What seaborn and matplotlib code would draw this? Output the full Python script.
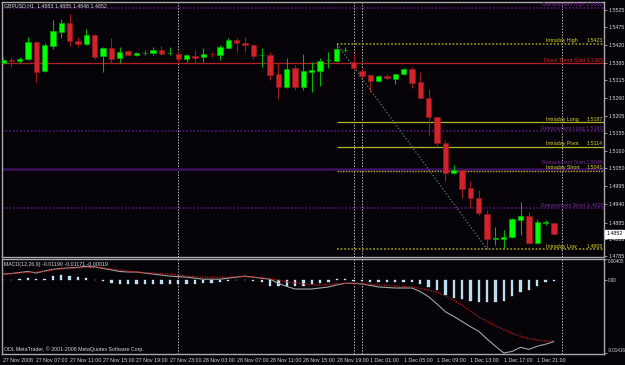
import matplotlib
matplotlib.use("Agg")
import matplotlib.pyplot as plt
import seaborn as sns
import pandas as pd
from matplotlib.transforms import blended_transform_factory

# ---------------- data ----------------
bars = list(range(67))
opens = [1.5366,1.5375,1.5372,1.5378,1.5429,1.5342,1.5417,1.5459,1.5486,1.5432,
         1.5423,1.5450,1.5387,1.5411,1.5381,1.5402,1.5390,1.5395,1.5396,1.5405,
         1.5395,1.5393,1.5378,1.5387,1.5384,1.5394,1.5390,1.5411,1.5435,1.5426,
         1.5420,1.5389,1.5390,1.5333,1.5293,1.5351,1.5293,1.5339,1.5342,1.5374,
         1.5372,1.5404,1.5369,1.5342,1.5330,1.5311,1.5326,1.5317,1.5333,1.5348,
         1.5308,1.5260,1.5203,1.5125,1.5035,1.5044,1.4990,1.4960,1.4911,1.4836,
         1.4836,1.4842,1.4893,1.4905,1.4824,1.4884,1.4883]
highs = [1.5384,1.5384,1.5384,1.5444,1.5432,1.5426,1.5495,1.5498,1.5513,1.5444,
         1.5468,1.5453,1.5414,1.5441,1.5414,1.5405,1.5399,1.5405,1.5414,1.5417,
         1.5414,1.5402,1.5393,1.5405,1.5411,1.5399,1.5420,1.5441,1.5441,1.5444,
         1.5423,1.5411,1.5399,1.5366,1.5381,1.5360,1.5393,1.5369,1.5381,1.5399,
         1.5423,1.5414,1.5396,1.5351,1.5333,1.5330,1.5333,1.5333,1.5351,1.5354,
         1.5338,1.5287,1.5203,1.5134,1.5059,1.5044,1.5011,1.4984,1.4923,1.4872,
         1.4863,1.4899,1.4947,1.4917,1.4896,1.4893,1.4885]
lows = [1.5363,1.5354,1.5366,1.5375,1.5308,1.5339,1.5408,1.5441,1.5417,1.5414,
        1.5420,1.5378,1.5339,1.5366,1.5366,1.5387,1.5387,1.5390,1.5390,1.5390,
        1.5390,1.5369,1.5369,1.5366,1.5369,1.5384,1.5375,1.5411,1.5399,1.5399,
        1.5378,1.5354,1.5314,1.5257,1.5290,1.5284,1.5284,1.5278,1.5296,1.5351,
        1.5369,1.5399,1.5345,1.5321,1.5278,1.5308,1.5314,1.5302,1.5330,1.5290,
        1.5257,1.5149,1.5113,1.5011,1.5032,1.4960,1.4929,1.4908,1.4806,1.4818,
        1.4808,1.4839,1.4848,1.4821,1.4821,1.4878,1.4848]
closes = [1.5375,1.5372,1.5378,1.5429,1.5339,1.5420,1.5462,1.5486,1.5432,1.5423,
          1.5450,1.5384,1.5411,1.5378,1.5399,1.5390,1.5396,1.5397,1.5405,1.5393,
          1.5397,1.5378,1.5390,1.5381,1.5393,1.5392,1.5414,1.5435,1.5426,1.5420,
          1.5387,1.5391,1.5330,1.5293,1.5348,1.5293,1.5342,1.5345,1.5372,1.5376,
          1.5408,1.5406,1.5351,1.5327,1.5311,1.5326,1.5320,1.5333,1.5348,1.5305,
          1.5260,1.5203,1.5125,1.5035,1.5044,1.4987,1.4960,1.4914,1.4836,1.4839,
          1.4842,1.4896,1.4905,1.4824,1.4887,1.4887,1.4852]

macd_main = [0.0012,0.0013,0.0015,0.0017,0.0014,0.0018,0.0021,0.0023,0.0024,0.0025,
             0.0027,0.0026,0.0023,0.0020,0.0017,0.0016,0.0016,0.0014,0.0012,0.0010,
             0.0008,0.0007,0.0006,0.0004,0.0002,0.0002,0.0002,0.0004,0.0006,0.0008,
             0.0006,0.0004,0.0002,-0.0006,-0.0012,-0.0017,-0.0017,-0.0017,-0.0015,-0.0013,
             -0.0009,-0.0006,-0.0006,-0.0007,-0.0010,-0.0013,-0.0014,-0.0015,-0.0015,-0.0015,
             -0.0022,-0.0032,-0.0046,-0.0061,-0.0070,-0.0080,-0.0090,-0.0099,-0.0114,-0.0128,
             -0.0141,-0.0138,-0.0130,-0.0134,-0.0128,-0.0124,-0.0119]
macd_signal = [0.0012,0.0013,0.0014,0.0015,0.0016,0.0017,0.0020,0.0022,0.0023,0.0024,
               0.0025,0.0025,0.0024,0.0022,0.0020,0.0018,0.0016,0.0015,0.0014,0.0013,
               0.0012,0.0010,0.0008,0.0007,0.0006,0.0006,0.0006,0.0006,0.0007,0.0007,
               0.0006,0.0005,0.0003,0.0000,-0.0003,-0.0005,-0.0007,-0.0009,-0.0009,-0.0008,
               -0.0007,-0.0006,-0.0006,-0.0007,-0.0008,-0.0009,-0.0010,-0.0011,-0.0012,-0.0013,
               -0.0016,-0.0019,-0.0023,-0.0030,-0.0039,-0.0048,-0.0060,-0.0071,-0.0080,-0.0088,
               -0.0096,-0.0103,-0.0109,-0.0113,-0.0116,-0.0118,-0.0117]
macd_hist = [0.0000,0.0001,0.0002,0.0004,0.0003,0.0003,0.0008,0.0010,0.0009,0.0006,
             0.0004,0.0001,-0.0001,-0.0006,-0.0007,-0.0007,-0.0007,-0.0007,-0.0007,-0.0007,
             -0.0007,-0.0007,-0.0007,-0.0007,-0.0006,-0.0005,-0.0004,-0.0002,0.0001,0.0001,
             -0.0002,-0.0004,-0.0011,-0.0012,-0.0011,-0.0012,-0.0011,-0.0008,-0.0005,-0.0004,
             0.0002,0.0002,-0.0001,-0.0001,-0.0003,-0.0004,-0.0004,-0.0004,-0.0004,-0.0004,
             -0.0008,-0.0013,-0.0019,-0.0029,-0.0035,-0.0036,-0.0040,-0.0043,-0.0043,-0.0043,
             -0.0040,-0.0030,-0.0022,-0.0019,-0.0011,-0.0004,-0.0002]

level_names = ["Retracement High", "Intraday High", "Down Trend Start", "Intraday Long",
               "Retracement Long", "Intraday Pivot", "Retracement Start", "Intraday Short",
               "Retracement Short", "Intraday Low"]
level_values = [1.5532, 1.5423, 1.5365, 1.5187, 1.5160, 1.5114, 1.5046, 1.5041, 1.4928, 1.4805]
level_kinds = ["retr", "ihl", "trend", "intra", "retr", "intra", "retr_bold", "intra_dot", "retr", "ihl"]
intraday_start_bar = 40

trend_bars = [40, 58]
trend_prices = [1.5423, 1.4805]
separator_bars = [21, 42, 43, 67]

price_ticks = [1.5525, 1.5475, 1.5420, 1.5365, 1.5315, 1.5260, 1.5205, 1.5155,
               1.5100, 1.5050, 1.4995, 1.4940, 1.4885, 1.4835, 1.4785]
time_tick_bars = [0, 4, 8, 12, 16, 20, 24, 28, 32, 36, 40, 44, 48, 52, 56, 60, 64]
time_tick_labels = ["27 Nov 2008", "27 Nov 07:00", "27 Nov 11:00", "27 Nov 15:00",
                    "27 Nov 19:00", "27 Nov 23:00", "28 Nov 03:00", "28 Nov 07:00",
                    "28 Nov 11:00", "28 Nov 15:00", "28 Nov 19:00", "1 Dec 01:00",
                    "1 Dec 05:00", "1 Dec 09:00", "1 Dec 13:00", "1 Dec 17:00", "1 Dec 21:00"]
macd_ticks = [0.00405, 0.0, -0.01416]
macd_tick_labels = ["0.00405", "0.00", "-0.01416"]
title_text = "GBPUSD,H1  1.4883 1.4885 1.4848 1.4852"
macd_title = "MACD(12,26,9) -0.01190 -0.01171 -0.00019"
copyright_text = "ODL MetaTrader, \u00a9 2001-2008 MetaQuotes Software Corp."
last_price = 1.4852

# ---------------- style ----------------
BG = "#050308"
sns.set_style("dark", rc={"axes.facecolor": BG, "figure.facecolor": BG,
                          "axes.edgecolor": "#A8A8A8", "grid.color": BG})
plt.rcParams["font.family"] = ["Liberation Sans", "DejaVu Sans"]
FS = 3.8
TXT = "#D8D8D8"

W, H = 625, 365
fig = plt.figure(figsize=(W / 100, H / 100), dpi=100)
L, R = 2, 604
ax = fig.add_axes([L / W, 1 - 257 / H, (R - L) / W, (257 - 2) / H])
ax2 = fig.add_axes([L / W, 1 - 354 / H, (R - L) / W, (354 - 259) / H], sharex=ax)
for a in (ax, ax2):
    a.set_facecolor(BG)
    for s in a.spines.values():
        s.set_color("#A8A8A8")
        s.set_linewidth(1.0)
    a.grid(False)

xlim = (-0.1, 72.0)
ax.set_xlim(*xlim)
ax.set_ylim(1.47820, 1.55490)

df = pd.DataFrame({"bar": bars, "open": opens, "high": highs, "low": lows, "close": closes})
up = df[df["close"] >= df["open"]]
dn = df[df["close"] < df["open"]]

# wicks
ax.vlines(up["bar"], up["low"], up["high"], color="#00B400", lw=0.8, zorder=3)
ax.vlines(dn["bar"], dn["low"], dn["high"], color="#9E1A1A", lw=0.8, zorder=3)
# bodies
ax.bar(up["bar"], (up["close"] - up["open"]).clip(lower=0.00008), bottom=up["open"],
       width=0.64, color="#00FF00", edgecolor="#00A800", linewidth=0.5, zorder=4)
ax.bar(dn["bar"], (dn["open"] - dn["close"]).clip(lower=0.00008), bottom=dn["close"],
       width=0.64, color="#D2232C", edgecolor="#8E1818", linewidth=0.5, zorder=4)

# level lines
styles = {
    "retr": dict(color="#4A1468", lw=1.3, ls=(0, (1, 1))),
    "retr_bold": dict(color="#3E1060", lw=1.8, ls="-"),
    "ihl": dict(color="#8A8A1A", lw=1.3, ls=(0, (1, 1))),
    "intra": dict(color="#B4B428", lw=0.9, ls="-"),
    "intra_dot": dict(color="#B4B428", lw=1.0, ls=(0, (1, 1))),
    "trend": dict(color="#B22222", lw=0.9, ls="-"),
}
label_colors = {"retr": "#7A2A96", "retr_bold": "#7A2A96", "ihl": "#D4D428",
                "intra": "#D4D428", "intra_dot": "#D4D428", "trend": "#D02828"}
label_lift = {"retr_bold": 0.0010}
tr = blended_transform_factory(ax.transAxes, ax.transData)
for name, val, kind in zip(level_names, level_values, level_kinds):
    x0 = xlim[0] if kind.startswith("retr") or kind == "trend" else intraday_start_bar
    ax.hlines(val, x0, xlim[1], zorder=2, **styles[kind])
    c = label_colors[kind]
    ty = val + 0.0002 + label_lift.get(kind, 0.0)
    if kind.startswith("retr") or kind == "trend":
        ax.text(0.998, ty, f"{name} {val:.4f}", transform=tr, color=c, fontsize=FS,
                ha="right", va="bottom", zorder=6)
    else:
        ax.text(0.903, ty, name, transform=tr, color=c, fontsize=FS,
                ha="left", va="bottom", zorder=6)
        ax.text(0.998, ty, f"{val:.4f}", transform=tr, color=c, fontsize=FS,
                ha="right", va="bottom", zorder=6)

# trend line
sns.lineplot(x=trend_bars, y=trend_prices, ax=ax, color="#5E7A7A", lw=0.9,
             linestyle=(0, (1, 1.6)), zorder=3)

# separators
for a in (ax, ax2):
    for b in separator_bars:
        a.axvline(b, color="#B8B8B8", lw=0.7, ls=(0, (1.5, 1.5)), zorder=1)

# price axis
ax.yaxis.tick_right()
ax.set_yticks(price_ticks)
ax.set_yticklabels([f"{p:.4f}" for p in price_ticks])
ax.tick_params(axis="y", colors="#A8A8A8", labelcolor=TXT, labelsize=FS, length=2,
               pad=1.5, width=0.6)
ax.tick_params(axis="x", bottom=False, labelbottom=False)
ax.text(1.004, last_price, f"{last_price:.4f}", transform=tr, fontsize=FS, color="black",
        ha="left", va="center", zorder=10, clip_on=False,
        bbox=dict(boxstyle="square,pad=0.3", fc="white", ec="white"))
ax.text(0.004, 0.995, title_text, transform=ax.transAxes, color=TXT, fontsize=FS,
        ha="left", va="top")

# ---------------- MACD panel ----------------
ax2.set_ylim(-0.01430, 0.00412)
ax2.bar(bars, macd_hist, width=0.28, color="#B4DDF0", edgecolor="#E8F6FF",
        linewidth=0.2, zorder=3)
sns.lineplot(x=bars, y=macd_main, ax=ax2, color="#A4A4A4", lw=0.8, zorder=4)
sns.lineplot(x=bars, y=macd_signal, ax=ax2, color="#C81414", lw=0.9,
             linestyle=(0, (1, 1)), zorder=4)
ax2.yaxis.tick_right()
ax2.set_yticks(macd_ticks)
ax2.set_yticklabels(macd_tick_labels)
ax2.tick_params(axis="y", colors="#A8A8A8", labelcolor=TXT, labelsize=3.3, length=2,
                pad=1.0, width=0.6)
ylabs = ax2.get_yticklabels()
ylabs[0].set_va("top")
ylabs[-1].set_va("bottom")
ax2.set_xticks(time_tick_bars)
ax2.set_xticklabels(time_tick_labels, ha="left")
ax2.tick_params(axis="x", colors="#A8A8A8", labelcolor=TXT, labelsize=FS, length=2,
                pad=1, width=0.6)
ax2.set_xlabel("")
ax2.set_ylabel("")
ax.set_xlabel("")
ax.set_ylabel("")
ax2.text(0.004, 0.965, macd_title, transform=ax2.transAxes, color=TXT, fontsize=FS,
         ha="left", va="top")
ax2.text(0.004, 0.02, copyright_text, transform=ax2.transAxes, color=TXT, fontsize=FS,
         ha="left", va="bottom")

fig.savefig("out.png", dpi=100, facecolor=BG)
